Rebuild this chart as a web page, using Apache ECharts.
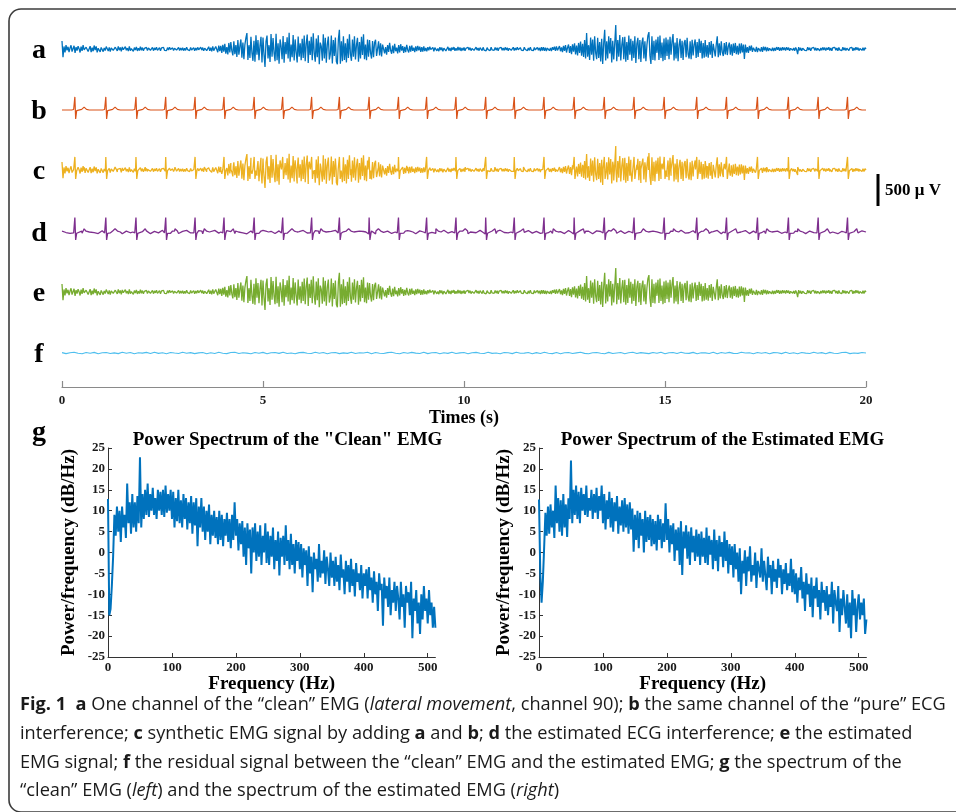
<!DOCTYPE html>
<html><head><meta charset="utf-8">
<script src="https://cdn.jsdelivr.net/npm/echarts@6/dist/echarts.min.js"></script>
<style>html,body{margin:0;padding:0;background:#fff}#chart{width:956px;height:812px}</style>
</head><body><div id="chart"></div>
<script>
// ---------------- DATA ----------------
const timeTicks = [0, 5, 10, 15, 20];            // s
const freqTicks = [0, 100, 200, 300, 400, 500];  // Hz
const dbRange = [-25, 25];
const scaleBarUV = 500;                            // µV

// R-peak times of the ECG beats (s)
const beatTimes = [0.32, 1.09, 1.84, 2.58, 3.31, 4.03, 4.78, 5.49, 6.21, 6.90, 7.64, 8.37, 9.07, 9.80,
  10.54, 11.25, 11.99, 12.74, 13.49, 14.23, 14.98, 15.79, 16.53, 17.30, 18.07, 18.81, 19.54];
// beat waveform: [offset from R peak (s), µV]
const ecgShapePure = [[-0.08,0],[-0.03,8],[-0.012,-20],[0,205],[0.02,-140],[0.045,-10],[0.07,0],[0.17,10],[0.23,45],[0.29,10],[0.36,0]];
const ecgShapeEstimated = [[-0.08,0],[-0.03,-15],[-0.012,-30],[0,225],[0.02,-125],[0.045,-20],[0.07,0],[0.17,15],[0.23,50],[0.29,15],[0.36,0]];

// "clean" EMG, µV, one value every 0.025 s from 0 to 20 s (one row per second)
const emgStep = 0.025;
const emgClean = [
 125,-130,40,-55,62,-20,35,-48,15,58,-40,-10,50,-62,30,-25,45,5,-55,38,-30,60,-15,-45,28,52,-38,-8,44,-50,22,-35,55,-18,40,-52,12,36,-44,25,
 30,-42,18,-25,38,8,-33,26,-40,15,35,-22,-36,28,10,-30,40,-18,24,-38,32,-12,-28,36,-20,14,-34,40,-26,6,30,-38,22,-16,34,-30,12,-24,36,-20,
 22,-28,10,-18,26,-24,15,30,-20,-8,24,-26,18,-14,28,-22,6,20,-27,16,-12,25,-20,10,-26,22,-16,28,-8,-22,18,-25,12,20,-18,-6,26,-24,14,-20,
 20,-26,12,-22,28,-10,18,-24,25,-15,8,22,-28,16,-20,26,-12,-24,30,-18,22,-28,14,32,-26,-12,35,-30,20,-38,42,-25,-45,38,15,-50,55,-35,48,-60,
 65,-40,80,-72,30,-85,95,-55,110,-30,-100,120,-80,60,-125,140,-90,40,150,-135,100,-160,70,175,250,-170,60,-140,190,-60,-185,130,-200,215,-90,140,-175,50,190,-210,
 180,-90,-280,120,210,-150,60,-205,235,-120,170,-60,-190,240,-175,90,-230,150,40,-160,205,-215,110,-80,185,-150,255,-200,70,-130,220,-180,150,-50,-210,195,-120,90,-175,160,
 -140,210,-190,80,225,-220,130,-95,190,-175,245,-60,-200,165,-130,215,-240,100,40,-185,230,-150,175,-215,70,195,-165,-80,210,-225,140,-110,180,-195,-240,150,300,-230,120,-190,
 200,-170,90,-210,160,-140,230,-80,-185,150,-120,200,-165,60,175,-200,110,-150,190,-95,230,-160,70,-175,150,-120,140,-60,-150,125,-130,100,145,-110,-85,120,-100,90,-115,70,
 85,-70,30,-90,60,-45,95,-20,-75,55,-65,80,-35,20,-70,60,-55,75,-25,45,-60,35,-50,65,-15,-55,48,-40,55,-30,20,-50,42,-35,50,-22,38,-45,30,-40,
 40,-32,15,-38,28,-20,36,-10,-30,25,-35,20,32,-28,8,-34,30,-18,22,-36,12,28,-30,-14,34,-26,18,-32,24,-12,30,-28,10,-25,33,-20,26,-30,16,-22,
 24,-28,10,-20,27,-15,22,-26,8,25,-22,-12,28,-18,15,-26,20,-8,-24,26,-16,12,-28,22,-10,18,-25,27,-14,6,-22,25,-18,20,-27,14,-12,24,-20,16,
 -22,26,-14,20,-28,10,24,-20,-6,27,-24,16,-18,28,-12,-26,22,-16,12,-25,28,-8,20,-26,14,-22,30,-18,8,-27,24,-14,-30,26,-20,18,-32,28,-24,30,
 -28,22,-32,15,30,-26,18,-34,28,-12,36,-30,40,-22,-38,45,-35,25,-50,48,-30,60,-55,20,70,-62,45,-80,72,-40,90,-85,55,-100,95,-60,115,-105,80,-125,
 140,-150,250,-120,60,-170,180,-90,150,-185,200,-60,-160,175,-140,110,-195,160,-235,90,300,-180,120,-150,200,-70,170,-210,130,-165,90,375,-190,140,-120,220,-180,60,185,-160,
 190,-200,110,-170,210,-90,160,-185,130,-140,200,-220,80,175,-160,140,-205,95,180,-150,120,-190,60,210,265,-100,-235,200,-170,130,-180,150,-60,190,-170,210,-140,100,-190,165,
 -170,180,-110,150,-160,190,-90,120,235,-180,100,-150,170,-190,60,160,-140,130,-170,90,140,-130,175,-80,-150,120,-160,145,-100,70,150,-140,110,-125,160,-60,130,-150,95,-135,
 140,-120,60,-135,110,-90,125,-140,80,105,-115,70,200,-130,90,-100,120,-50,-110,95,-85,110,-95,40,100,-90,75,-105,85,-60,95,-80,50,-90,85,-70,90,-55,70,-155,
 70,-55,30,-60,48,-25,55,-45,20,50,-42,35,-48,15,40,-38,28,-44,36,-20,32,-36,25,-30,10,34,-28,22,-32,18,-26,30,-12,28,-30,20,-24,27,-16,22,
 -25,28,-14,22,-28,10,26,-20,16,-27,24,-10,-80,30,-22,18,-26,12,25,-20,8,-24,27,-16,20,-28,14,-12,26,-22,18,-25,10,24,-28,16,-20,26,-14,22,
 -26,20,-12,28,-24,14,-27,22,-8,25,-20,16,-28,24,-14,10,-26,27,-18,20,-22,12,26,-25,18,-10,24,-28,16,-20,28,-14,22,-26,8,25,-22,18,-24,20,
 0];
// panel e (estimated EMG) is indistinguishable from panel a at this resolution
const emgEstimated = emgClean;

// slow-sampled traces, µV, one value every 0.1 s
const slowStep = 0.1;
const residual = [
 6,-10,3,12,-5,-11,8,-3,10,-12,4,9,-7,2,-10,11,-4,7,-12,5,
 -2,10,-8,12,-6,3,-11,8,-1,-9,12,-5,6,-10,2,9,-12,4,-7,11,
 -3,-10,7,12,-8,5,-2,-11,9,-4,10,-12,3,8,-6,11,-9,1,-12,6,
 10,-5,-8,12,-3,7,-11,4,9,-10,2,-6,12,-9,5,-1,11,-12,8,-4,
 -9,6,11,-3,-12,8,-5,10,-2,-7,12,-10,4,9,-11,3,-6,11,-8,2,
 7,-12,5,10,-4,-9,12,-6,1,-11,8,3,-10,12,-5,-2,9,-12,6,-7,
 11,-3,-10,8,-12,4,7,-9,2,12,-6,-11,5,9,-3,-12,10,-7,1,8,
 -11,4,12,-8,6,-2,-10,9,-5,11,-12,3,7,-9,12,-4,-6,10,-11,5,
 2,-9,11,-12,7,-3,10,-6,-8,12,-1,5,-11,9,-4,8,-12,6,3,-10,
 12,-7,4,-11,9,-2,-8,11,-5,6,-12,10,-3,-9,7,12,-10,1,-6,9,
 0];
const ecgEstNoise = [
 15,-8,-22,25,6,-18,12,28,-10,-25,20,-5,-15,24,8,-28,14,-12,22,-20,
 5,18,-26,10,-14,27,-6,-20,16,-24,9,26,-15,-4,21,-27,13,-9,25,-17,
 -11,23,7,-25,19,-13,-28,15,4,-21,26,-8,11,-24,17,-3,-19,28,-14,6,
 24,-16,-7,20,-27,12,-22,9,27,-18,3,-12,25,-26,14,8,-20,16,-29,21,
 -6,13,-23,26,-10,-17,22,5,-28,18,-14,24,-4,-21,11,27,-16,7,-25,15,
 20,-27,9,-12,25,-19,4,16,-24,28,-8,-15,21,-26,13,-5,23,-18,10,-22,
 27,-11,-20,14,6,-25,22,-16,-3,26,-21,12,-28,18,8,-13,24,-9,-19,17,
 -24,10,26,-14,-7,21,-27,15,3,-18,25,-22,11,-6,28,-17,-12,20,-26,9,
 16,-21,5,24,-28,12,-9,27,-15,-4,22,-25,14,19,-11,-23,26,-7,13,-20,
 -14,25,-18,8,21,-26,15,-10,28,-22,6,-16,23,-27,11,17,-24,4,-13,19,
 0];

// power spectra, dB/Hz, one value every 2 Hz from 0 to 512 Hz
const specStep = 2;
const specClean = [
 12.8,-15,-13.5,-8,-1,9,4,11,5,10,2.5,11,6,9,3.5,16.5,7,12,4.5,14,6,12,5,13.5,7,
 22.8,6,14,8,15,9,16.5,8.5,14,10,15.5,9,13,8,15,10,14.5,9,15,8.5,16,9.5,14,10,15,
 8,14.5,6,13,7.5,15,7,12.5,6,14,8,13,5.5,12,7,13.5,4.5,12,6.5,13,1.5,11,6,13,5,
 11,3,10,5,11.5,2,9,4,10,3.5,8.5,2,10,3,9,1.5,8,4,9.5,2.5,8,1,9,3,12,
 4,8,0.5,7,2,7.5,-1,6,-3,7,1,5.5,-5,6,0,7,-2,5,-1,6.5,-3,4,0,7,-2.5,
 5,-3,4,-1,6,-4,3,-2,5,-5.5,3.5,-1,4,-3,6.5,-2,3,-4,4.5,-3,2,-5,3,-2,2.5,
 -4,2,-6,1,-3,0.5,-8,1.5,-5,-1,-9.5,0,-4,-1.5,-7,2,-6,-2,-5,0.5,-7.5,-1,-4,-8,0,
 -6,-2,-8,-1,-7,-3,-9,-0.5,-6,-4,-10,-2,-7,-3,-9.5,-1.5,-8,-4,-10.5,-2.5,-7,-5,-9,-3,-11,
 -5,-8,-4,-11,-3.5,-9,-6,-12,-4.5,-10,-7,-14,-5,-9,-7.5,-17.5,-6,-11,-8,-13,-6,-15,-9,-12,-7,
 -14,-8,-11,-16,-7,-13,-10,-18,-8,-12,-9.5,-15,-7,-20.5,-11,-14,-9,-17,-12,-19.5,-10,-16,-8,-14,-11,
 -17,-9,-15,-12,-18,-13,-18];
const specEstimated = [
 12.7,-5,-12,-7,1,9.5,4,11,4.5,11.5,6,10,3.5,16,7,13,5,12.5,4,14,6,11.5,3.7,13,8,
 22,7,15,9,16,8,14.5,7,15.5,10,14,9,16,8.5,13,10,15,8,14,9.5,15.5,8,13.5,10,16,
 7,14,5.5,12.5,8,14.5,6,13,5,12,7.5,13.5,4.5,11,6.5,12.5,5,13,6,11.5,4.5,12,5.5,10.5,0.2,
 9,3,10,1,9.5,4,8,0,10,2.5,8.5,3,9,1.5,8,2,7.5,0.5,9,3,8,1,7,2.5,11.8,
 3,8,0,6.5,2,7,-2,5.5,0.5,6,-3,7.5,-5.4,5,1,6.5,-1.5,5,-3,6,0,4,-2,5.5,-1,
 4.5,-3,5,-1,3.5,-2.5,6,-3,4,-0.5,3,-4,5.5,-2,3,-4.5,4,-1,2.5,-3.5,5,-2,3,-5,2,
 -3,1.5,-6,2,-4,0,-7,1,-10,-2,-5,0.5,-8,-1,-4.5,1.5,-7,-3,-5.5,0,-8.5,-2,-4,-6,1,
 -7,-2,-5.5,-9,-1,-6,-3,-10,-2,-7,-4,-8.5,-1.5,-6,-3,-10,-4,-7.5,-2.5,-9,-5,-8,-1.5,-9.5,-4,
 -10,-5,-12,-6,-9,-3.5,-11,-7,-14,-5,-10,-7.5,-13,-6,-15.5,-8,-11,-6,-13,-9,-16,-7,-12,-9,-14,
 -8,-15,-10,-13,-7,-17,-9,-12,-14,-8,-19,-11,-15,-9,-13,-17,-10,-18,-12,-20.5,-9,-15,-11,-19,-13,
 -10,-16,-12,-15,-11,-19.5,-16];

// ---------------- BUILD SERIES DATA ----------------
const T_END = 20;
const QRS_WIN = [-0.04, 0.06];
const sampled = (arr, dt) => arr.map((v, i) => [+(i * dt).toFixed(4), v]);
const beatPoints = shape => {
  const pts = [];
  beatTimes.forEach(bt => shape.forEach(([o, v]) => pts.push([+(bt + o).toFixed(4), v])));
  return pts;
};
const mergeWithBeats = (samples, shape) => samples
  .filter(([t]) => !beatTimes.some(bt => t > bt + QRS_WIN[0] && t < bt + QRS_WIN[1]))
  .concat(beatPoints(shape)).sort((p, q) => p[0] - q[0]);

const traceA = sampled(emgClean, emgStep);
const traceB = [[0, 0]].concat(beatPoints(ecgShapePure), [[T_END, 0]]);
const traceC = mergeWithBeats(sampled(emgClean, emgStep), ecgShapePure);
const traceD = mergeWithBeats(sampled(ecgEstNoise, slowStep), ecgShapeEstimated);
const traceE = sampled(emgEstimated, emgStep);
const traceF = sampled(residual, slowStep);

// ---------------- LAYOUT / STYLE ----------------
const SERIF = '"Liberation Serif","Times New Roman",Times,serif';
const SANS = '"Open Sans","Noto Sans",sans-serif';
const ROW_H = 60, UV_HALF = 470;
const rows = [
  {letter: 'a', data: traceA, color: '#0072BD', cy: 49, w: 1.3},
  {letter: 'b', data: traceB, color: '#D95319', cy: 110, w: 1.2},
  {letter: 'c', data: traceC, color: '#EDB120', cy: 170, w: 1.3},
  {letter: 'd', data: traceD, color: '#7E2F8E', cy: 232, w: 1.3},
  {letter: 'e', data: traceE, color: '#77AC30', cy: 292, w: 1.3},
  {letter: 'f', data: traceF, color: '#4DBEEE', cy: 353, w: 1.1}
];

const grid = [], xAxis = [], yAxis = [], series = [];
rows.forEach((r, i) => {
  grid.push({left: 62, width: 804, top: r.cy - ROW_H / 2, height: ROW_H});
  const isLast = i === rows.length - 1;
  xAxis.push({
    gridIndex: i, type: 'value', min: timeTicks[0], max: timeTicks[timeTicks.length - 1], interval: 5,
    show: isLast, position: 'bottom', offset: 4,
    axisLine: {show: true, onZero: false, lineStyle: {color: '#8a8a8a', width: 1.2}},
    axisTick: {show: true, inside: true, length: 6, lineStyle: {color: '#8a8a8a', width: 1.2}},
    axisLabel: {margin: 7, color: '#1a1a1a', fontFamily: SERIF, fontWeight: 'bold', fontSize: 13},
    splitLine: {show: false},
    name: 'Times (s)', nameLocation: 'middle', nameGap: 22,
    nameTextStyle: {color: '#000', fontFamily: SERIF, fontWeight: 'bold', fontSize: 18}
  });
  yAxis.push({gridIndex: i, type: 'value', min: -UV_HALF, max: UV_HALF, show: false});
  series.push({
    type: 'line', xAxisIndex: i, yAxisIndex: i, data: r.data, showSymbol: false, symbol: 'none',
    lineStyle: {color: r.color, width: r.w}, clip: false, animation: false, silent: true
  });
});

// spectrum panels
const specPanels = [
  {data: specClean, left: 108, nameGap: 29},
  {data: specEstimated, left: 539, nameGap: 25}
];
specPanels.forEach((p, k) => {
  const gi = rows.length + k;
  grid.push({left: p.left, width: 327.4, top: 448, height: 209});
  xAxis.push({
    gridIndex: gi, type: 'value', min: 0, max: 512,
    axisLine: {show: true, onZero: false, lineStyle: {color: '#333', width: 1}},
    axisTick: {show: true, inside: true, length: 4, customValues: freqTicks, lineStyle: {color: '#333'}},
    axisLabel: {customValues: freqTicks, margin: 4, color: '#1a1a1a', fontFamily: SERIF, fontWeight: 'bold', fontSize: 13},
    splitLine: {show: false},
    name: 'Frequency (Hz)', nameLocation: 'middle', nameGap: 14,
    nameTextStyle: {color: '#000', fontFamily: SERIF, fontWeight: 'bold', fontSize: 19}
  });
  yAxis.push({
    gridIndex: gi, type: 'value', min: dbRange[0], max: dbRange[1], interval: 5,
    axisLine: {show: true, onZero: false, lineStyle: {color: '#333', width: 1}},
    axisTick: {show: true, inside: true, length: 4, lineStyle: {color: '#333'}},
    axisLabel: {margin: 3, color: '#1a1a1a', fontFamily: SERIF, fontWeight: 'bold', fontSize: 13},
    splitLine: {show: false},
    name: 'Power/frequency (dB/Hz)', nameLocation: 'middle', nameGap: p.nameGap, nameRotate: 90,
    nameTextStyle: {color: '#000', fontFamily: SERIF, fontWeight: 'bold', fontSize: 19}
  });
  series.push({
    type: 'line', xAxisIndex: gi, yAxisIndex: gi, data: sampled(p.data, specStep), showSymbol: false, symbol: 'none',
    lineStyle: {color: '#0072BD', width: 2}, animation: false, silent: true
  });
});

// scale bar, drawn on the same µV scale as the traces
const sgi = grid.length;
grid.push({left: 877, width: 2, top: 190 - ROW_H / 2, height: ROW_H});
xAxis.push({gridIndex: sgi, type: 'value', min: 0, max: 1, show: false});
yAxis.push({gridIndex: sgi, type: 'value', min: -UV_HALF, max: UV_HALF, show: false});
series.push({type: 'line', xAxisIndex: sgi, yAxisIndex: sgi, data: [[0.5, -scaleBarUV / 2], [0.5, scaleBarUV / 2]],
  showSymbol: false, lineStyle: {color: '#000', width: 3}, animation: false, silent: true});

// text elements
const txt = (text, x, y, font, extra) => Object.assign({
  type: 'text', x, y, silent: true,
  style: Object.assign({text, font, fill: '#000', align: 'center', verticalAlign: 'middle'}, extra || {})
});
const graphic = [
  {type: 'rect', shape: {x: 9, y: 9, width: 1000, height: 803, r: 12}, silent: true,
   style: {fill: 'none', stroke: '#3c3c3c', lineWidth: 1.6}}
];
const letterFont = 'bold 28px ' + SERIF;
rows.forEach(r => graphic.push(txt(r.letter, 39, r.cy + 1.5, letterFont)));
graphic.push(txt('g', 39, 433, letterFont));
graphic.push(txt('500 \u03bc V', 885, 191, 'bold 17px ' + SERIF, {align: 'left'}));
graphic.push(txt('Power Spectrum of the "Clean" EMG', 287.5, 440.5, 'bold 19px ' + SERIF));
graphic.push(txt('Power Spectrum of the Estimated EMG', 722.5, 440.5, 'bold 19px ' + SERIF));

const CAP = 18.2;
const rich = {
  b: {fontFamily: SANS, fontSize: CAP, fontWeight: 'bold', fill: '#1a1a1a'},
  i: {fontFamily: SANS, fontSize: CAP, fontStyle: 'italic', fill: '#1a1a1a'},
  n: {fontFamily: SANS, fontSize: CAP, fill: '#1a1a1a'}
};
const captionLines = [
  '{b|Fig. 1}{n|  }{b|a}{n| One channel of the \u201cclean\u201d EMG (}{i|lateral movement}{n|, channel 90); }{b|b}{n| the same channel of the \u201cpure\u201d ECG}',
  '{n|interference; }{b|c}{n| synthetic EMG signal by adding }{b|a}{n| and }{b|b}{n|; }{b|d}{n| the estimated ECG interference; }{b|e}{n| the estimated}',
  '{n|EMG signal; }{b|f}{n| the residual signal between the \u201cclean\u201d EMG and the estimated EMG; }{b|g}{n| the spectrum of the}',
  '{n|\u201cclean\u201d EMG (}{i|left}{n|) and the spectrum of the estimated EMG (}{i|right}{n|)}'
];
const capY = [705, 734, 763, 791];
captionLines.forEach((s, i) => graphic.push({
  type: 'text', x: 20, y: capY[i], silent: true,
  style: {text: s, rich, fontFamily: SANS, fontSize: CAP, fill: '#1a1a1a', align: 'left', verticalAlign: 'middle'}
}));

const chart = echarts.init(document.getElementById('chart'), null, {renderer: 'canvas', width: 956, height: 812});
chart.setOption({animation: false, backgroundColor: '#fff', grid, xAxis, yAxis, series, graphic});
</script></body></html>
